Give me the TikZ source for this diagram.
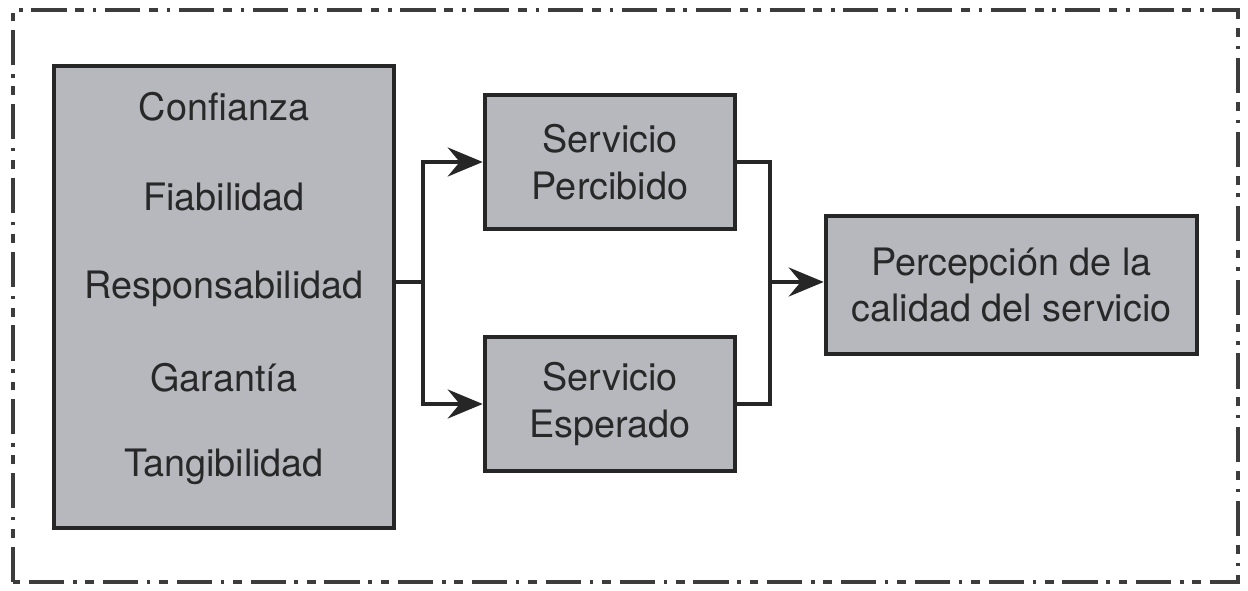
\documentclass[tikz,border=0pt]{standalone}
\usepackage{fontspec}
\setmainfont{TeX Gyre Heros}
\usetikzlibrary{arrows.meta}
\definecolor{boxgray}{RGB}{182, 184, 190}
\definecolor{inktext}{RGB}{40, 40, 40}
\definecolor{framegray}{RGB}{60, 60, 60}

\tikzset{
  block/.style={draw=black!85, line width=2.6pt, fill=boxgray, align=center,
    text=inktext, font=\fontsize{21.5}{26.5}\selectfont},
  item/.style={text=inktext, font=\fontsize{21.5}{26.5}\selectfont},
  link/.style={draw=black!85, line width=2.2pt},
  tip/.style={-{Stealth[length=7mm, width=5.8mm, inset=2.4mm]}}
}

\begin{document}
\begin{tikzpicture}
      \useasboundingbox (0,0) rectangle (24.96,11.8);
      % outer frame
      \draw[framegray, line width=1.8pt, dash pattern=on 20pt off 5pt on 5pt off 5pt on 2pt off 5pt]
        (0.26,0.16) rectangle (24.76,11.6);
      % dimensions
      \node[block, minimum width=6.8cm, minimum height=9.24cm] (factors) at (4.48,5.86) {};
      \node[item] (confianza) at (4.48,9.66) {Confianza};
      \node[item] (fiabilidad) at (4.48,7.86) {Fiabilidad};
      \node[item] (responsab) at (4.48,6.02) {Responsabilidad};
      \node[item] (garantia) at (4.48,4.24) {Garantía};
      \node[item] (tangible) at (4.48,2.46) {Tangibilidad};
      % perceived / expected
      \node[block, minimum width=5cm, minimum height=2.68cm] (percibido) at (12.2,8.56) {Servicio\\Percibido};
      \node[block, minimum width=5cm, minimum height=2.68cm] (esperado) at (12.2,3.72) {Servicio\\Esperado};
      % result
      \node[block, minimum width=7.42cm, minimum height=2.76cm] (calidad) at (20.23,6.1) {Percepción de la\\calidad del servicio};
      % connectors
      \coordinate (split) at (8.46,6.16);
      \coordinate (merge) at (15.4,6.16);
      \draw[link] (factors.east |- split) -- (split);
      \draw[link, tip] (split) |- (percibido.west);
      \draw[link, tip] (split) |- (esperado.west);
      \draw[link] (percibido.east) -| (merge);
      \draw[link] (esperado.east) -| (merge);
      \draw[link, tip] (merge) -- (merge -| calidad.west);
\end{tikzpicture}
\end{document}
